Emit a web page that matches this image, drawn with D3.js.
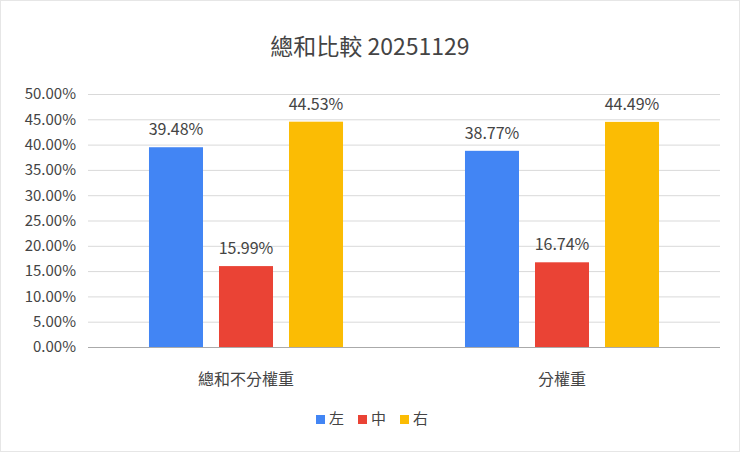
<!DOCTYPE html>
<html><head><meta charset="utf-8">
<script src="https://cdn.jsdelivr.net/npm/d3@7"></script>
<style>body{margin:0;background:#fff}text{font-family:"Noto Sans CJK TC","Liberation Sans",Arial,sans-serif}</style>
</head><body><svg id="c" width="740" height="452"></svg>
<script>
const categories = ["總和不分權重", "分權重"];
const seriesNames = ["左", "中", "右"];
const left = [39.48, 38.77];
const center = [15.99, 16.74];
const right = [44.53, 44.49];
const yTicks = [0,5,10,15,20,25,30,35,40,45,50];
const colors = ["#4285F4", "#EA4335", "#FBBC04"];
const values = [left, center, right];

const svg = d3.select("#c");
svg.append("rect").attr("x",0.5).attr("y",0.5).attr("width",739).attr("height",451).attr("fill","#fff").attr("stroke","#e6e6e6");
const x0 = d3.scaleBand().domain(categories).range([88,720]);
const x1 = d3.scaleBand().domain(seriesNames).range([0,x0.bandwidth()]).paddingInner(16/70).paddingOuter(0.871);
const y = d3.scaleLinear().domain([0,50]).range([347,94]);

svg.append("text").attr("x",370).attr("y",55).attr("text-anchor","middle").attr("font-size",23).attr("fill","#444").text("總和比較 20251129");

const g = svg.append("g").attr("transform","translate(88,0)");
g.call(d3.axisLeft(y).tickValues(yTicks).tickSize(-632).tickFormat(d=>d.toFixed(2)+"%"))
 .call(a=>a.select(".domain").remove())
 .call(a=>a.selectAll("line").attr("stroke","#d9d9d9"))
 .call(a=>a.selectAll("text").attr("font-size",15).attr("fill","#444").attr("x",-12).attr("font-family","Liberation Sans,Arial,sans-serif"));
g.selectAll(".tick").filter(d=>d===0).select("line").attr("stroke","#aaa");

categories.forEach((c,ci)=>{
  seriesNames.forEach((s,si)=>{
    const v = values[si][ci];
    const bx = x0(c)+x1(s);
    svg.append("rect").attr("x",bx).attr("y",y(v)).attr("width",x1.bandwidth()).attr("height",y(0)-y(v)).attr("fill",colors[si]);
    svg.append("text").attr("x",bx+x1.bandwidth()/2).attr("y",y(v)-12).attr("text-anchor","middle")
      .attr("font-size",16).attr("fill","#444").attr("font-family","Liberation Sans,Arial,sans-serif").text(v.toFixed(2)+"%");
  });
  svg.append("text").attr("x",x0(c)+x0.bandwidth()/2).attr("y",385).attr("text-anchor","middle").attr("font-size",16).attr("fill","#444").text(c);
});

seriesNames.forEach((s,i)=>{
  const lx = 316 + i*42;
  svg.append("rect").attr("x",lx).attr("y",415).attr("width",9).attr("height",9).attr("fill",colors[i]);
  svg.append("text").attr("x",lx+13).attr("y",424).attr("font-size",15).attr("fill","#444").text(s);
});
</script></body></html>
